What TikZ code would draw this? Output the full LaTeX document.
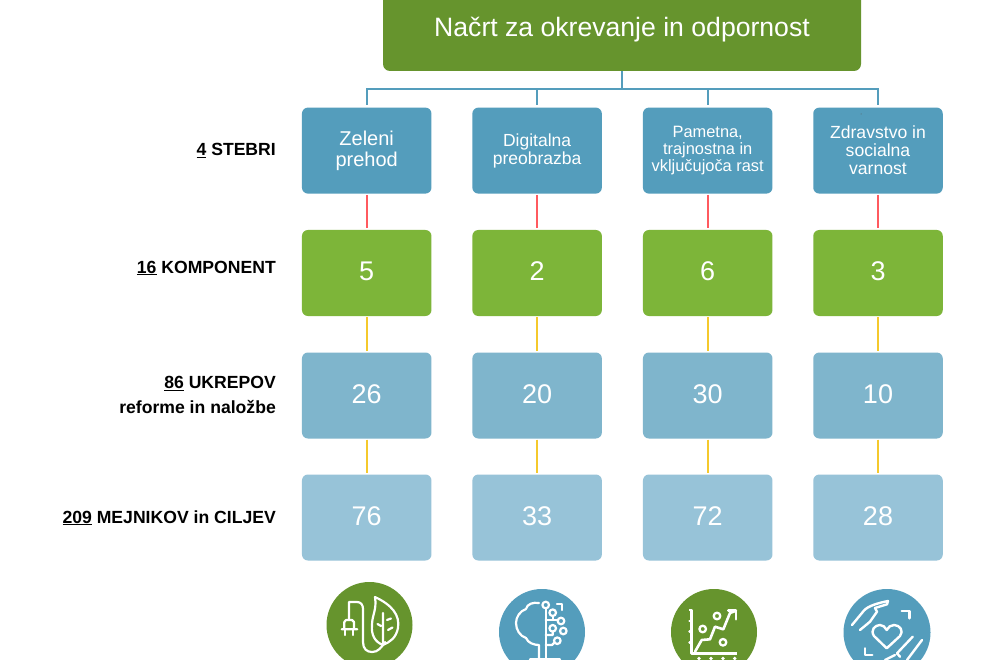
\documentclass[tikz,border=0pt]{standalone}
\usepackage{fontspec}
\setmainfont{Liberation Sans}
\definecolor{titlegreen}{HTML}{66942D}
\definecolor{pillarblue}{HTML}{549DBC}
\definecolor{compgreen}{HTML}{7DB539}
\definecolor{measblue}{HTML}{7FB5CC}
\definecolor{milestoneblue}{HTML}{97C3D8}
\definecolor{redline}{HTML}{FF5A5F}
\definecolor{yellowline}{HTML}{F5C92C}
\newcommand{\fsz}[2]{\fontsize{#1}{#2}\selectfont}
\tikzset{
  x=1pt,y=-1pt,
  boxbase/.style={rectangle,rounded corners=6pt,minimum width=129.5pt,minimum height=86pt,inner sep=0pt,text=white,align=center},
  pillar/.style={boxbase,fill=pillarblue},
  compbox/.style={boxbase,fill=compgreen,font=\fsz{27}{30},text depth=3pt},
  measbox/.style={boxbase,fill=measblue,font=\fsz{27}{30},text depth=3pt},
  milebox/.style={boxbase,fill=milestoneblue,font=\fsz{27}{30},text depth=3pt},
  rowlabel/.style={anchor=base east,inner sep=0pt,font=\fsz{17.6}{20}\bfseries,text=black},
  bus/.style={draw=pillarblue,line width=1.8pt,shorten >=2pt},
  redlink/.style={draw=redline,line width=1.8pt,shorten >=1.5pt,shorten <=1pt},
  yellowlink/.style={draw=yellowline,line width=1.8pt,shorten >=1pt,shorten <=1pt},
  icon/.style={draw=white,line width=2.2pt,line cap=round,line join=round},
}
\begin{document}
\begin{tikzpicture}
\useasboundingbox (0,0) rectangle (990,660);
\clip (0,0) rectangle (990,660);
\fill[white] (0,0) rectangle (990,660);

\node[rectangle,rounded corners=7pt,fill=titlegreen,minimum width=478pt,minimum height=79pt,inner sep=0pt,text=white,font=\fsz{26.6}{30},text height=20pt,text depth=10pt] (title) at (622,31.5) {Načrt za okrevanje in odpornost};

\node[pillar,font=\fsz{20}{20.5}] (p1) at (366.7,150.6) {Zeleni\\prehod};
\node[pillar,font=\fsz{17.5}{18}] (p2) at (537.1,150.6) {Digitalna\\preobrazba};
\node[pillar,font=\fsz{16.4}{17}] (p3) at (707.7,150.6) {Pametna,\\trajnostna in\\vključujoča rast};
\node[pillar,font=\fsz{17.6}{18}] (p4) at (878,150.6) {Zdravstvo in\\socialna\\varnost};

\foreach \i/\x/\a/\b/\c in {1/366.7/5/26/76,2/537.1/2/20/33,3/707.7/6/30/72,4/878/3/10/28}{
  \node[compbox] (k\i) at (\x,273) {\a};
  \node[measbox] (m\i) at (\x,395.5) {\b};
  \node[milebox] (t\i) at (\x,517.5) {\c};
  \draw[bus] (title.south) -- ++(0,18) -| (p\i.north);
  \draw[redlink] (p\i.south) -- (k\i.north);
  \draw[yellowlink] (k\i.south) -- (m\i.north);
  \draw[yellowlink] (m\i.south) -- (t\i.north);
}

\node[rowlabel] (l1) at (276,155.6) {\underline{4} STEBRI};
\node[rowlabel] (l2) at (276,273) {\underline{16} KOMPONENT};
\node[rowlabel] (l3) at (276,388.3) {\underline{86} UKREPOV};
\node[rowlabel] (l3b) at (276,413.5) {reforme in naložbe};
\node[rowlabel] (l4) at (276,523) {\underline{209} MEJNIKOV in CILJEV};

\fill[gray!70!black] (861,114) circle (0.5);

% icon 1: plug and leaf
\fill[titlegreen] (369.5,625) circle (43);
\draw[icon] (349,620) -- (349,602) -- (357,602) .. controls (361,602) and (363,605) .. (363,609) -- (363,642) .. controls (363,649) and (367,652) .. (372,652) .. controls (378,652) and (381,648) .. (385,642);
\draw[icon] (341.7,629.3) -- (344.3,629.3) -- (344.3,622) -- (346,620) -- (352,620) -- (354,622) -- (354,629.3) -- (357.3,629.3) -- cycle;
\draw[icon] (345,630) -- (345,635) (353.3,630) -- (353.3,635);
\draw[icon] (375,597) .. controls (392,605) and (400,615) .. (398,628) .. controls (396,638) and (390,642) .. (383,645) .. controls (375,642) and (371,635) .. (372,625) .. controls (372,615) and (377,610) .. (375,597) -- cycle;
\draw[icon] (383,613) -- (383,645) (377.5,624) -- (381,626) (387,620) -- (391,618.5) (388,630) -- (392.5,627.5);

% icon 2: tree
\fill[pillarblue] (542,632) circle (43);
\draw[icon] (539,603) .. controls (533,602) and (527,604) .. (526,609) .. controls (520,611) and (516,617) .. (516,623) .. controls (516,630) and (520,636) .. (526,638) .. controls (528,643) and (534,645) .. (539,645) -- (539,660);
\draw[icon] (545.7,609) -- (545.7,660) (530,659.5) -- (560,659.5);
\draw[icon] (545.7,605) circle (3.3) (552.7,612.7) circle (3.3) (561,621) circle (3.3) (552.7,628.3) circle (3.3) (563.3,631) circle (3.3) (557.3,640.7) circle (3.3);
\draw[icon] (545.7,620) -- (552.7,620) -- (552.7,616) (552.7,620) -- (557.7,620);
\draw[icon] (545.7,635) -- (552.7,635) -- (552.7,631.6) (545.7,645) -- (552,645) -- (554.5,642.5);
\draw[icon] (557,604) -- (562,604) -- (562,610);

% icon 3: chart
\fill[titlegreen] (714,632) circle (43);
\draw[icon,line cap=butt,line width=2.5pt] (689,610) -- (691.7,610) -- (691.7,653.3) -- (736.7,653.3);
\draw[icon,line width=2.5pt] (689.5,621) -- (691,621) (689.5,631.7) -- (691,631.7) (689.5,642.3) -- (691,642.3);
\draw[icon,line width=2.6pt] (695,651.7) -- (701.7,640) -- (710,639.3) -- (715,626.7) -- (723.3,629.3) -- (730,613) -- (736,610.7);
\draw[icon,line width=2.6pt] (728.3,610.7) -- (736,610.7) -- (736,619.3);
\draw[icon,line width=2.3pt] (702.7,629) circle (3.3) (717,616) circle (3.3) (723,642.3) circle (3.3);
\fill[white] (699,658.5) circle (1.8) (711,658.5) circle (1.8) (723,658.5) circle (1.8) (734.7,658.5) circle (1.8);

% icon 4: hands and heart
\fill[pillarblue] (887,632.5) circle (43.5);
\draw[icon,line width=2.4pt] (886.7,648.3) -- (874,636) .. controls (870,630) and (875,625) .. (880,625) .. controls (883,625) and (885,627) .. (886.7,630) .. controls (888,627) and (891,625) .. (894,625) .. controls (900,625) and (904,631) .. (900,636) -- cycle;
\draw[icon,line width=2.4pt] (901.7,610.7) -- (909.3,610.7) -- (909.3,618.3) (865,648.3) -- (865,655) -- (872.3,655);
\draw[icon,line width=2.4pt] (852,625) -- (864,610.5) .. controls (868,606) and (878,603) .. (888,601) -- (887,604.3) -- (875,608);
\draw[icon,line width=2.4pt] (860,630) -- (870,621.7) -- (877,611.7) -- (875,608);
\draw[icon,line width=2.4pt] (922,640) -- (907,660) (912.7,636.7) -- (897,653.3) -- (900,656.7) (895,655) -- (885,660);
\end{tikzpicture}
\end{document}
